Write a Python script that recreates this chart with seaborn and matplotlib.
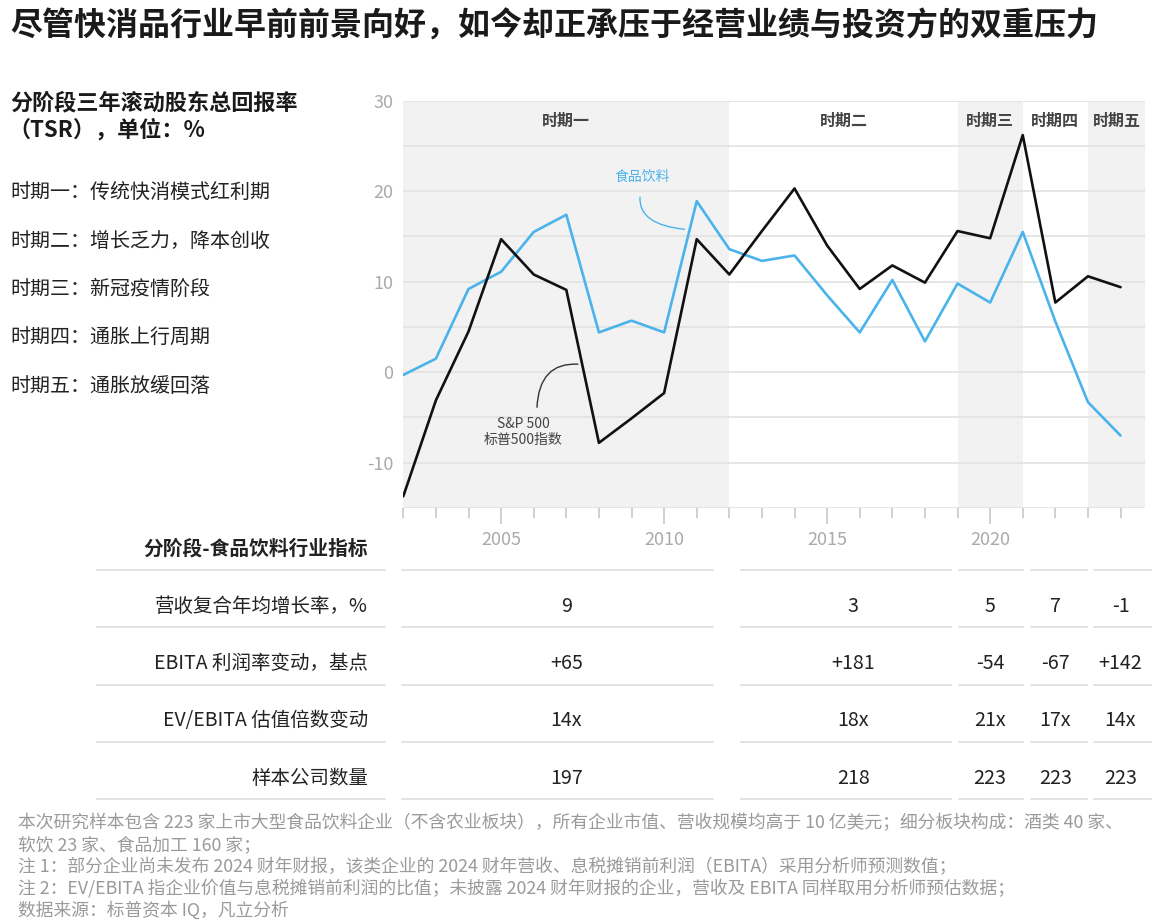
import matplotlib
matplotlib.use("Agg")
import numpy as np
import pandas as pd
import matplotlib.pyplot as plt
import matplotlib.path as mpath
import matplotlib.patches as mpatches
import matplotlib.transforms as mtrans
import seaborn as sns

# 三年滚动 TSR（%）
years = list(range(2002, 2025))
sp500_tsr = [-13.7, -3.1, 4.5, 14.7, 10.8, 9.1, -7.8, -5.1, -2.3, 14.7, 10.8, 15.6,
             20.3, 14.0, 9.2, 11.8, 9.9, 15.6, 14.8, 26.2, 7.7, 10.6, 9.4]
food_bev_tsr = [-0.3, 1.5, 9.2, 11.1, 15.5, 17.4, 4.4, 5.7, 4.4, 18.9, 13.6, 12.3,
                12.9, 8.5, 4.4, 10.2, 3.4, 9.8, 7.7, 15.5, 5.6, -3.3, -7.0]

period_names = ["时期一", "时期二", "时期三", "时期四", "时期五"]
period_desc = ["传统快消模式红利期", "增长乏力，降本创收", "新冠疫情阶段", "通胀上行周期", "通胀放缓回落"]
period_start = [2002, 2012, 2019, 2021, 2023]
period_end = [2012, 2019, 2021, 2023, 2024.75]

metric_names = ["营收复合年均增长率，%", "EBITA 利润率变动，基点", "EV/EBITA 估值倍数变动", "样本公司数量"]
revenue_cagr = ["9", "3", "5", "7", "-1"]
ebita_margin_bp = ["+65", "+181", "-54", "-67", "+142"]
ev_ebita_change = ["14x", "18x", "21x", "17x", "14x"]
sample_count = ["197", "218", "223", "223", "223"]

footnotes = [
    "本次研究样本包含 223 家上市大型食品饮料企业（不含农业板块），所有企业市值、营收规模均高于 10 亿美元；细分板块构成：酒类 40 家、",
    "软饮 23 家、食品加工 160 家；",
    "注 1：部分企业尚未发布 2024 财年财报，该类企业的 2024 财年营收、息税摊销前利润（EBITA）采用分析师预测数值；",
    "注 2：EV/EBITA 指企业价值与息税摊销前利润的比值；未披露 2024 财年财报的企业，营收及 EBITA 同样取用分析师预估数据；",
    "数据来源：标普资本 IQ，凡立分析",
]

BLUE = "#4AB3EC"
BLACK = "#111111"
SHADE = "#f2f2f2"
GRID = "#e2e2e2"

sns.set_theme(style="white")
plt.rcParams["font.family"] = ["Noto Sans CJK SC", "DejaVu Sans"]

W, H = 1160, 924
fig = plt.figure(figsize=(W / 100, H / 100), dpi=100)


def fx(px):
    return px / W


def fy(py):
    return 1 - py / H


# 主图
ax = fig.add_axes([fx(403.3), fy(508), fx(1145) - fx(403.3), fy(100.7) - fy(508)])
ax.set_facecolor("none")
for i, (a, b) in enumerate(zip(period_start, period_end)):
    if i % 2 == 0:
        ax.axvspan(a, b, color=SHADE, lw=0, zorder=0)
for v in range(-15, 31, 5):
    ax.axhline(v, color=GRID, lw=1.2, zorder=1)

df = pd.DataFrame({
    "year": years * 2,
    "tsr": food_bev_tsr + sp500_tsr,
    "series": ["食品饮料"] * len(years) + ["S&P 500"] * len(years),
})
sns.lineplot(data=df, x="year", y="tsr", hue="series", hue_order=["食品饮料", "S&P 500"],
             palette={"食品饮料": BLUE, "S&P 500": BLACK}, lw=1.9, legend=False, ax=ax, zorder=3)

ax.set_xlim(2002, 2024.75)
ax.set_ylim(-15, 30)
ax.set_xlabel("")
ax.set_ylabel("")
for s in ax.spines.values():
    s.set_visible(False)
ax.set_yticks([-10, 0, 10, 20, 30])
ax.set_yticklabels(["-10", "0", "10", "20", "30"])
ax.tick_params(axis="y", length=0, pad=7, labelsize=13, labelcolor="#aaaaaa")
ax.set_xticks([2005, 2010, 2015, 2020])
ax.set_xticks(years, minor=True)
ax.tick_params(axis="x", which="major", length=11.5, width=1.2, color="#c8c8c8",
               pad=5, labelsize=13, labelcolor="#aaaaaa", bottom=True)
ax.tick_params(axis="x", which="minor", length=7.5, width=1.2, color="#c8c8c8", bottom=True)

for name, a, b in zip(period_names, period_start, period_end):
    ax.text((a + b) / 2, 27.8, name, ha="center", va="center", fontsize=11.5,
            fontweight="bold", color="#444444")

# 标注
ax.text(2009.32, 21.57, "食品饮料", ha="center", va="center", fontsize=10, color=BLUE)
p = mpath.Path([(2009.26, 19.39), (2009.2, 16.3), (2010.64, 15.79)],
               [mpath.Path.MOVETO, mpath.Path.CURVE3, mpath.Path.CURVE3])
ax.add_patch(mpatches.PathPatch(p, fc="none", ec=BLUE, lw=1, zorder=4))
ax.text(2005.67, -6.6, "S&P 500\n标普500指数", ha="center", va="center", fontsize=10,
        color="#444444", linespacing=1.25)
p = mpath.Path([(2006.10, -3.92), (2006.16, 1.13), (2007.37, 0.89)],
               [mpath.Path.MOVETO, mpath.Path.CURVE3, mpath.Path.CURVE3])
ax.add_patch(mpatches.PathPatch(p, fc="none", ec="#333333", lw=1, zorder=4))

# 表格
ax_t = fig.add_axes([fx(403.3), fy(805), fx(1145) - fx(403.3), fy(520) - fy(805)], sharex=ax)
ax_t.set_ylim(4.4716, -0.5066)
ax_t.axis("off")
tr = mtrans.blended_transform_factory(fig.transFigure, ax_t.transData)
col_x = [2007, 2015.8, 2020, 2022, 2024]
seg = [(2001.96, 2011.5), (2012.35, 2018.8), (2019.05, 2021.0), (2021.25, 2022.97), (2023.19, 2024.93)]
rows = [revenue_cagr, ebita_margin_bp, ev_ebita_change, sample_count]

ax_t.text(fx(368), 0, "分阶段-食品饮料行业指标", transform=tr, ha="right", va="center",
          fontsize=14.2, fontweight="bold", color="#222222")
for r in range(5):
    yl = r + 0.367
    ax_t.plot([fx(97), fx(385)], [yl, yl], transform=tr, color=GRID, lw=1.4, clip_on=False)
    for a, b in seg:
        ax_t.plot([a, b], [yl, yl], color=GRID, lw=1.4, clip_on=False)
for r, (label, vals) in enumerate(zip(metric_names, rows), start=1):
    ax_t.text(fx(368), r, label, transform=tr, ha="right", va="center", fontsize=14,
              color="#222222")
    for x, v in zip(col_x, vals):
        ax_t.text(x, r, v, ha="center", va="center", fontsize=14.2, color="#222222",
                  clip_on=False)

# 左侧文字
fig.text(fx(10), fy(27), "尽管快消品行业早前前景向好，如今却正承压于经营业绩与投资方的双重压力",
         ha="left", va="center", fontsize=23, fontweight="bold", color="#1a1a1a")
fig.text(fx(10), fy(103), "分阶段三年滚动股东总回报率", ha="left", va="center",
         fontsize=15.9, fontweight="bold", color="#1a1a1a")
fig.text(fx(8), fy(130), "（TSR），单位：%", ha="left", va="center",
         fontsize=15.9, fontweight="bold", color="#1a1a1a")
for i, (name, desc) in enumerate(zip(period_names, period_desc)):
    fig.text(fx(10), fy(193 + 48.3 * i), f"{name}：{desc}", ha="left", va="center",
             fontsize=14.4, color="#222222")

for i, line in enumerate(footnotes):
    fig.text(fx(18), fy(823 + 21.8 * i), line, ha="left", va="center",
             fontsize=12.8, color="#9a9a9a")

fig.savefig("out.png", dpi=100)
